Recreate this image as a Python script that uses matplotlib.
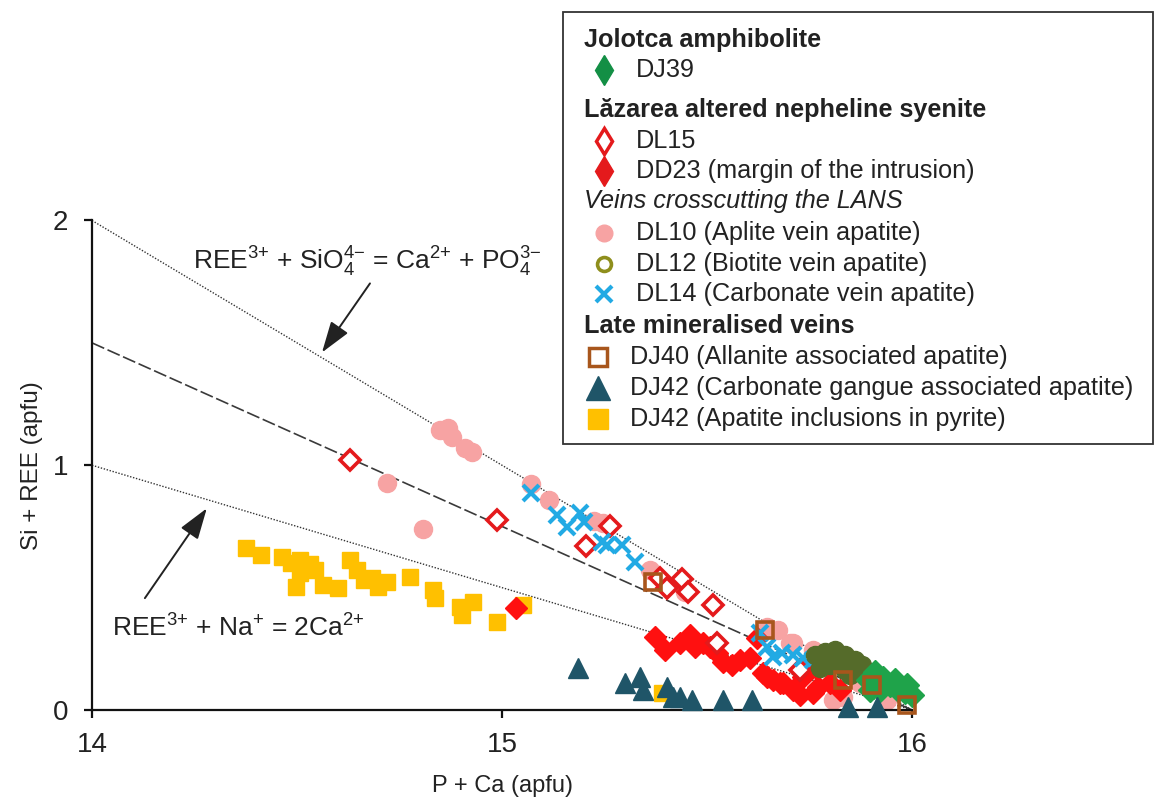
import matplotlib
matplotlib.use("Agg")
import matplotlib.pyplot as plt
from matplotlib.patches import Rectangle

plt.rcParams['font.family'] = ['Liberation Sans', 'DejaVu Sans']
plt.rcParams['mathtext.fontset'] = 'custom'
plt.rcParams['mathtext.rm'] = 'Liberation Sans'
plt.rcParams['mathtext.it'] = 'Liberation Sans:italic'
plt.rcParams['mathtext.bf'] = 'Liberation Sans:bold'

# ---- substitution vectors (P + Ca, Si + REE) ----
line_x = [14.0, 16.0]
line_si_ree = [2.0, 0.0]      # REE3+ + SiO4 4- = Ca2+ + PO4 3-
line_mid = [1.5, 0.0]         # intermediate trend
line_na_ree = [1.0, 0.0]      # REE3+ + Na+ = 2Ca2+

# ---- apatite analyses ----
dj39_x = [15.893, 15.910, 15.929, 15.946, 15.966, 15.983, 16.000, 15.922, 15.959, 15.898, 15.988]
dj39_y = [0.122, 0.155, 0.131, 0.102, 0.082, 0.073, 0.061, 0.082, 0.122, 0.082, 0.102]

dl15_x = [14.629, 14.988, 15.205, 15.263, 15.385, 15.402, 15.439, 15.454, 15.515, 15.524, 15.727]
dl15_y = [1.020, 0.776, 0.669, 0.751, 0.539, 0.498, 0.535, 0.482, 0.429, 0.273, 0.163]

dd23_x = [15.034, 15.373, 15.398, 15.434, 15.459, 15.471, 15.490, 15.507, 15.524, 15.539,
          15.561, 15.580, 15.605, 15.622, 15.637, 15.661, 15.685, 15.710, 15.646, 15.678,
          15.734, 15.763, 15.771, 15.800, 15.824, 15.759, 15.727]
dd23_y = [0.416, 0.298, 0.245, 0.273, 0.306, 0.257, 0.273, 0.257, 0.233, 0.196,
          0.184, 0.204, 0.212, 0.294, 0.151, 0.122, 0.110, 0.082, 0.135, 0.110,
          0.135, 0.176, 0.094, 0.110, 0.082, 0.069, 0.061]

dl10_x = [14.849, 14.868, 14.878, 14.910, 14.927, 14.720, 14.807, 15.071, 15.115, 15.224,
          15.246, 15.361, 15.446, 15.646, 15.673, 15.702, 15.710, 15.759, 15.807, 15.832,
          15.939, 15.873]
dl10_y = [1.143, 1.151, 1.114, 1.069, 1.053, 0.927, 0.739, 0.922, 0.857, 0.771,
          0.763, 0.571, 0.482, 0.339, 0.327, 0.273, 0.273, 0.245, 0.041, 0.053,
          0.041, 0.110]

dl12_x = [15.763, 15.788, 15.812, 15.837, 15.861, 15.878, 15.800, 15.837, 15.776, 15.849, 15.893, 15.820]
dl12_y = [0.224, 0.237, 0.245, 0.224, 0.204, 0.184, 0.184, 0.163, 0.171, 0.143, 0.155, 0.204]

dl14_x = [15.071, 15.134, 15.159, 15.190, 15.200, 15.244, 15.256, 15.293, 15.324,
          15.629, 15.646, 15.661, 15.683, 15.710, 15.734, 15.759]
dl14_y = [0.886, 0.796, 0.747, 0.804, 0.767, 0.686, 0.673, 0.673, 0.604,
          0.314, 0.257, 0.216, 0.233, 0.224, 0.212, 0.204]

dj40_x = [15.368, 15.641, 15.832, 15.902, 15.988]
dj40_y = [0.522, 0.327, 0.122, 0.102, 0.020]

dj42c_x = [15.185, 15.300, 15.337, 15.344, 15.402, 15.417, 15.434, 15.463, 15.539, 15.610, 15.844, 15.915]
dj42c_y = [0.171, 0.110, 0.135, 0.082, 0.094, 0.053, 0.053, 0.041, 0.041, 0.041, 0.012, 0.012]

dj42p_x = [14.376, 14.412, 14.463, 14.507, 14.629, 14.498, 14.563, 14.600, 14.646, 14.683,
           14.720, 14.776, 14.832, 14.837, 14.898, 14.929, 14.902, 14.988, 15.051,
           14.532, 14.485, 14.507, 14.545, 14.663, 14.697, 15.390]
dj42p_y = [0.661, 0.633, 0.624, 0.612, 0.612, 0.502, 0.510, 0.498, 0.571, 0.539,
           0.522, 0.543, 0.490, 0.457, 0.420, 0.441, 0.388, 0.359, 0.429,
           0.596, 0.600, 0.559, 0.571, 0.531, 0.502, 0.070]

x_ticks = [14, 15, 16]
y_ticks = [0, 1, 2]

C_TXT = '#222222'
C_GREEN = '#1FA34A'
C_RED = '#E41A1C'
C_RED2 = '#FF1010'
C_PINK = '#F7A3A3'
C_OLIVE = '#556B2A'
C_OLIVE_LEG = '#8E8E1C'
C_BLUE = '#22AAE4'
C_BROWN = '#A8561C'
C_TEAL = '#1F5568'
C_GOLD = '#FFC000'

W, H = 1166, 801
fig = plt.figure(figsize=(W / 100, H / 100), dpi=100)
ax = fig.add_axes([92 / W, 1 - 710 / H, 820 / W, 489.5 / H])

# trend lines
ax.plot(line_x, line_si_ree, ls=(0, (1, 1.2)), lw=1.0, color='#333333', zorder=1)
ax.plot(line_x, line_mid, ls=(0, (8, 2.2)), lw=1.2, color='#3A3A3A', zorder=1)
ax.plot(line_x, line_na_ree, ls=(0, (1, 1.2)), lw=1.0, color='#333333', zorder=1)

kw = dict(ls='none', clip_on=False)
ax.plot(dl10_x, dl10_y, marker='o', ms=13, mfc=C_PINK, mec=C_PINK, zorder=2, **kw)
ax.plot(dj42p_x, dj42p_y, marker='s', ms=12, mfc=C_GOLD, mec=C_GOLD, zorder=3, **kw)
ax.plot(dd23_x, dd23_y, marker='D', ms=11, mfc=C_RED2, mec=C_RED2, zorder=4, **kw)
ax.plot(dl15_x, dl15_y, marker='D', ms=10, mfc='white', mec=C_RED, mew=2.6, zorder=5, **kw)
ax.plot(dl14_x, dl14_y, marker='x', ms=12, mec=C_BLUE, mew=3, zorder=6, **kw)
ax.plot(dl12_x, dl12_y, marker='o', ms=13, mfc=C_OLIVE, mec=C_OLIVE, zorder=6, **kw)
ax.plot(dj39_x, dj39_y, marker='D', ms=12, mfc=C_GREEN, mec=C_GREEN, zorder=7, **kw)
ax.plot(dj40_x, dj40_y, marker='s', ms=12, mfc='none', mec=C_BROWN, mew=2.6, zorder=8, **kw)
ax.plot(dj42c_x, dj42c_y, marker='^', ms=14, mfc=C_TEAL, mec=C_TEAL, zorder=9, **kw)

ax.set_xlim(14, 16)
ax.set_ylim(0, 2)
ax.set_xticks(x_ticks)
ax.set_yticks(y_ticks)
for s in ('top', 'right'):
    ax.spines[s].set_visible(False)
for s in ('left', 'bottom'):
    ax.spines[s].set_linewidth(1.6)
    ax.spines[s].set_color('#111111')
ax.tick_params(axis='both', direction='out', length=6, width=1.6, color='#111111',
               labelsize=20, labelcolor=C_TXT)
ax.tick_params(axis='x', pad=10)
ax.tick_params(axis='y', pad=11)
ax.set_xlabel('P + Ca (apfu)', fontsize=17, color=C_TXT, labelpad=12)
ax.set_ylabel('Si + REE (apfu)', fontsize=17.5, color=C_TXT, labelpad=7)

# substitution annotations
ax.text(14.246, 1.829, r'REE$^{3{+}}$ + SiO$_4^{4{-}}$ = Ca$^{2{+}}$ + PO$_4^{3{-}}$',
        fontsize=19, color=C_TXT, ha='left', va='center')
ax.annotate('', xy=(14.561, 1.461), xytext=(14.678, 1.743),
            arrowprops=dict(arrowstyle='-|>,head_length=1.2,head_width=0.4',
                            mutation_scale=16, lw=1.4, color=C_TXT,
                            shrinkA=0, shrinkB=0))
ax.text(14.049, 0.335, r'REE$^{3{+}}$ + Na$^{{+}}$ = 2Ca$^{2{+}}$',
        fontsize=19, color=C_TXT, ha='left', va='center')
ax.annotate('', xy=(14.280, 0.824), xytext=(14.129, 0.457),
            arrowprops=dict(arrowstyle='-|>,head_length=1.2,head_width=0.4',
                            mutation_scale=16, lw=1.4, color=C_TXT,
                            shrinkA=0, shrinkB=0))

# ---- key panel (pixel coordinates) ----
lg = fig.add_axes([0, 0, 1, 1], zorder=10)
lg.set_xlim(0, W)
lg.set_ylim(H, 0)
lg.axis('off')
lg.add_patch(Rectangle((563, 12), 590, 432, fc='white', ec='#333333', lw=1.3))

FS = 18.2
def header(y, txt, **extra):
    lg.text(584, y, txt, fontsize=FS, color=C_TXT, ha='left', va='center', **extra)

def entry(y, txt, mx, tx, **mk):
    lg.plot([mx], [y], ls='none', **mk)
    lg.text(tx, y, txt, fontsize=FS, color=C_TXT, ha='left', va='center')

header(40, 'Jolotca amphibolite', fontweight='bold')
entry(70, 'DJ39', 604, 636, marker='d', ms=15, mfc='#138F45', mec='#138F45')
header(110, 'Lăzarea altered nepheline syenite', fontweight='bold')
entry(141, 'DL15', 604, 636, marker='d', ms=13, mfc='white', mec=C_RED, mew=2.5)
entry(171, 'DD23 (margin of the intrusion)', 604, 636, marker='d', ms=15, mfc=C_RED, mec=C_RED)
header(201, 'Veins crosscutting the LANS', fontstyle='italic')
entry(233, 'DL10 (Aplite vein apatite)', 604, 636, marker='o', ms=12, mfc=C_PINK, mec=C_PINK)
entry(264, 'DL12 (Biotite vein apatite)', 604, 636, marker='o', ms=10, mfc='none', mec=C_OLIVE_LEG, mew=2.6)
entry(294, 'DL14 (Carbonate vein apatite)', 604, 636, marker='x', ms=11, mec=C_BLUE, mew=3)
header(326, 'Late mineralised veins', fontweight='bold')
entry(357, 'DJ40 (Allanite associated apatite)', 598, 630, marker='s', ms=13, mfc='white', mec=C_BROWN, mew=2.5)
entry(388, 'DJ42 (Carbonate gangue associated apatite)', 598, 630, marker='^', ms=17, mfc=C_TEAL, mec=C_TEAL)
entry(419, 'DJ42 (Apatite inclusions in pyrite)', 598, 630, marker='s', ms=15, mfc=C_GOLD, mec=C_GOLD)

fig.savefig('out.png', dpi=100, facecolor='white')
